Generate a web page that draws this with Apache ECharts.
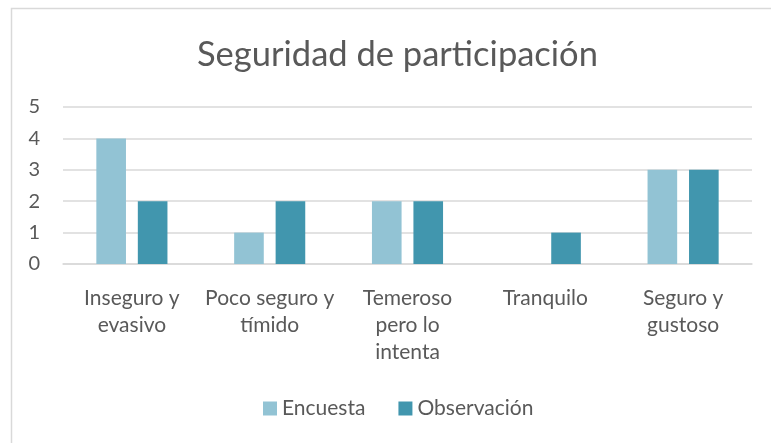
<!DOCTYPE html>
<html><head><meta charset="utf-8">
<script src="https://cdn.jsdelivr.net/npm/echarts@6/dist/echarts.min.js"></script>
<style>html,body{margin:0;padding:0;background:#fff}#c{width:771px;height:443px}</style>
</head><body><div id="c"></div>
<script>
const title = 'Seguridad de participación';
const categories = ['Inseguro y\nevasivo', 'Poco seguro y\ntímido', 'Temeroso\npero lo\nintenta', 'Tranquilo', 'Seguro y\ngustoso'];
const encuesta = [4, 1, 2, 0, 3];
const observacion = [2, 2, 2, 1, 3];
const seriesNames = ['Encuesta', 'Observación'];
const yTicks = {min: 0, max: 5, interval: 1};

const font = 'Lato, "Open Sans", sans-serif';
const chart = echarts.init(document.getElementById('c'), null, {renderer: 'canvas'});
chart.setOption({
  animation: false,
  backgroundColor: '#fff',
  graphic: [{type: 'rect', shape: {x: 11.5, y: 8.5, width: 800, height: 500}, style: {fill: 'none', stroke: '#D9D9D9', lineWidth: 1.5}, silent: true, z: -1}],
  title: {text: title, left: 192, top: 32, textStyle: {fontFamily: font, fontSize: 34.5, fontWeight: 'normal', color: '#595959'}},
  legend: {data: seriesNames, bottom: 19, left: 258, itemWidth: 14, itemHeight: 14, itemGap: 33,
    textStyle: {fontFamily: font, fontSize: 21, color: '#595959'}, icon: 'rect'},
  grid: {left: 63, right: 19, top: 107, bottom: 179, containLabel: false},
  xAxis: {type: 'category', data: categories,
    axisLine: {show: true, lineStyle: {color: '#D9D9D9', width: 1.5}}, axisTick: {show: false},
    axisLabel: {fontFamily: font, fontSize: 21, color: '#595959', margin: 21, lineHeight: 27, interval: 0}},
  yAxis: {type: 'value', min: yTicks.min, max: yTicks.max, interval: yTicks.interval,
    axisLine: {show: false}, axisTick: {show: false},
    splitLine: {lineStyle: {color: '#D9D9D9', width: 1.5}},
    axisLabel: {fontFamily: font, fontSize: 20, color: '#595959', margin: 23}},
  series: [
    {name: seriesNames[0], type: 'bar', data: encuesta, barWidth: '21.5%', barGap: '40%', itemStyle: {color: '#92C3D4'}},
    {name: seriesNames[1], type: 'bar', data: observacion, barWidth: '21.5%', itemStyle: {color: '#4196AE'}}
  ]
});
</script></body></html>
